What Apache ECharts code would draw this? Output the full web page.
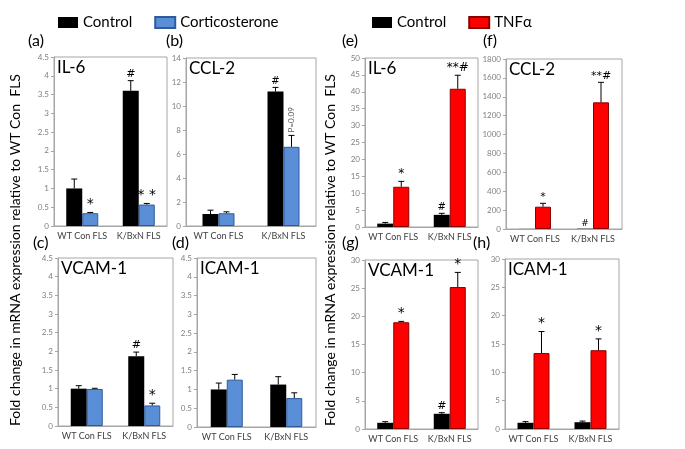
<!DOCTYPE html>
<html>
<head>
<meta charset="utf-8">
<script src="https://cdn.jsdelivr.net/npm/echarts@6/dist/echarts.min.js"></script>
<style>
  html, body { margin: 0; padding: 0; background: #fff; }
  #chart { width: 685px; height: 449px; }
</style>
</head>
<body>
<div id="chart"></div>
<script>
// fold change in mRNA expression, 8 panels (a)-(h)
const categories = ['WT Con FLS', 'K/BxN FLS'];
const genes = ['IL-6', 'CCL-2', 'VCAM-1', 'ICAM-1', 'IL-6', 'CCL-2', 'VCAM-1', 'ICAM-1'];
const panelLetters = ['(a)', '(b)', '(c)', '(d)', '(e)', '(f)', '(g)', '(h)'];

// y axis range per panel
const yMax = [4.5, 14, 4.5, 4.5, 50, 1800, 30, 30];
const yStep = [0.5, 2, 0.5, 0.5, 5, 200, 5, 5];

// (a) IL-6, control vs corticosterone
const aCtrl = [1.0, 3.6];
const aCtrlErr = [0.25, 0.27];
const aCort = [0.34, 0.57];
const aCortErr = [0.02, 0.03];
const aCtrlMarks = ['', '#'];
const aCortMarks = ['*', '* *'];

// (b) CCL-2
const bCtrl = [1.0, 11.2];
const bCtrlErr = [0.32, 0.35];
const bCort = [1.06, 6.6];
const bCortErr = [0.12, 0.95];
const bCtrlMarks = ['', '#'];
const bCortMarks = ['', 'P=0.09'];

// (c) VCAM-1
const cCtrl = [1.0, 1.87];
const cCtrlErr = [0.08, 0.11];
const cCort = [0.99, 0.55];
const cCortErr = [0.02, 0.06];
const cCtrlMarks = ['', '#'];
const cCortMarks = ['', '*'];

// (d) ICAM-1
const dCtrl = [1.0, 1.13];
const dCtrlErr = [0.17, 0.21];
const dCort = [1.26, 0.77];
const dCortErr = [0.14, 0.14];
const dCtrlMarks = ['', ''];
const dCortMarks = ['', ''];

// (e) IL-6, control vs TNFα
const eCtrl = [1.0, 3.6];
const eCtrlErr = [0.35, 0.45];
const eTnf = [11.9, 40.9];
const eTnfErr = [1.6, 4.0];
const eCtrlMarks = ['', '#'];
const eTnfMarks = ['*', '**#'];

// (f) CCL-2
const fCtrl = [1, 3];
const fCtrlErr = [0, 0];
const fTnf = [236, 1341];
const fTnfErr = [36, 212];
const fCtrlMarks = ['', '#'];
const fTnfMarks = ['*', '**#'];

// (g) VCAM-1
const gCtrl = [1.1, 2.7];
const gCtrlErr = [0.2, 0.2];
const gTnf = [18.95, 25.2];
const gTnfErr = [0.15, 2.6];
const gCtrlMarks = ['', '#'];
const gTnfMarks = ['*', '*'];

// (h) ICAM-1
const hCtrl = [1.1, 1.2];
const hCtrlErr = [0.2, 0.2];
const hTnf = [13.4, 13.9];
const hTnfErr = [3.8, 2.0];
const hCtrlMarks = ['', ''];
const hTnfMarks = ['*', '*'];

const FONT = 'Lato, "Open Sans", "Liberation Sans", sans-serif';
const MARK_FONT = '"DejaVu Sans", sans-serif';
const BLUE = { color: '#5a8fd8', borderColor: '#2d5b9c', borderWidth: 1 };
const RED = { color: '#ff0000', borderColor: '#8a0000', borderWidth: 1 };
const BLACK = { color: '#000000' };
const BAR_W = 16;

const grids = [
  { left: 54, top: 57, width: 113, height: 169 },   // a
  { left: 186, top: 58, width: 130, height: 168 },  // b
  { left: 58, top: 258, width: 115, height: 168 },  // c
  { left: 197, top: 258, width: 119, height: 169 }, // d
  { left: 365, top: 58, width: 113, height: 169 },  // e
  { left: 506, top: 59, width: 116, height: 170 },  // f
  { left: 365, top: 260, width: 113, height: 169 }, // g
  { left: 505, top: 259, width: 114, height: 170 }, // h
];
const markFont = [14, 13, 14, 14, 12, 11, 14, 14];
const letterPos = [[28, 33], [166, 33], [33, 235], [172, 235], [342, 33], [483, 33], [342, 235], [473, 235]];

const panels = [
  { ctrl: aCtrl, ctrlErr: aCtrlErr, ctrlMarks: aCtrlMarks, trt: aCort, trtErr: aCortErr, trtMarks: aCortMarks, trtName: 'Corticosterone', trtStyle: BLUE },
  { ctrl: bCtrl, ctrlErr: bCtrlErr, ctrlMarks: bCtrlMarks, trt: bCort, trtErr: bCortErr, trtMarks: bCortMarks, trtName: 'Corticosterone', trtStyle: BLUE },
  { ctrl: cCtrl, ctrlErr: cCtrlErr, ctrlMarks: cCtrlMarks, trt: cCort, trtErr: cCortErr, trtMarks: cCortMarks, trtName: 'Corticosterone', trtStyle: BLUE },
  { ctrl: dCtrl, ctrlErr: dCtrlErr, ctrlMarks: dCtrlMarks, trt: dCort, trtErr: dCortErr, trtMarks: dCortMarks, trtName: 'Corticosterone', trtStyle: BLUE },
  { ctrl: eCtrl, ctrlErr: eCtrlErr, ctrlMarks: eCtrlMarks, trt: eTnf, trtErr: eTnfErr, trtMarks: eTnfMarks, trtName: 'TNFα', trtStyle: RED },
  { ctrl: fCtrl, ctrlErr: fCtrlErr, ctrlMarks: fCtrlMarks, trt: fTnf, trtErr: fTnfErr, trtMarks: fTnfMarks, trtName: 'TNFα', trtStyle: RED },
  { ctrl: gCtrl, ctrlErr: gCtrlErr, ctrlMarks: gCtrlMarks, trt: gTnf, trtErr: gTnfErr, trtMarks: gTnfMarks, trtName: 'TNFα', trtStyle: RED },
  { ctrl: hCtrl, ctrlErr: hCtrlErr, ctrlMarks: hCtrlMarks, trt: hTnf, trtErr: hTnfErr, trtMarks: hTnfMarks, trtName: 'TNFα', trtStyle: RED },
];

/** error bar (upward only) + significance mark, drawn on top of a bar */
function errorSeries(idx, vals, errs, marks, side) {
  const fs = markFont[idx];
  return {
    type: 'custom',
    xAxisIndex: idx,
    yAxisIndex: idx,
    z: 5,
    clip: false,
    silent: true,
    data: vals.map((v, i) => [i, v, errs[i]]),
    renderItem: (params, api) => {
      const i = api.value(0);
      const v = api.value(1);
      const e = api.value(2);
      const b = api.coord([i, v]);
      const t = api.coord([i, v + e]);
      const x = b[0] + side * BAR_W / 2;
      const children = [];
      if (e > 0) {
        children.push({ type: 'line', shape: { x1: x, y1: b[1], x2: x, y2: t[1] }, style: { stroke: '#000', lineWidth: 1 } });
        children.push({ type: 'line', shape: { x1: x - 3, y1: t[1], x2: x + 3, y2: t[1] }, style: { stroke: '#000', lineWidth: 1 } });
      }
      const m = marks[params.dataIndex];
      if (m && m.startsWith('P=')) {
        children.push({
          type: 'text', x: x, y: t[1] - 3, rotation: Math.PI / 2,
          style: { text: m, fontSize: 8, fontFamily: FONT, fill: '#555', align: 'left', verticalAlign: 'middle' },
        });
      } else if (m) {
        const onlyHash = m === '#';
        const size = onlyHash ? Math.round(fs * 0.8) : fs;
        children.push({
          type: 'text', x: x, y: t[1] - 1,
          style: {
            text: m, fontSize: size, fontFamily: MARK_FONT,
            fill: '#000', align: 'center', verticalAlign: 'bottom',
          },
        });
      }
      return { type: 'group', children };
    },
  };
}

const grid = grids.map((g) => ({
  ...g, show: true, backgroundColor: '#fff', borderColor: '#a6a6a6', borderWidth: 1, containLabel: false,
}));

const xAxis = grids.map((g, i) => ({
  type: 'category',
  gridIndex: i,
  data: categories,
  axisLine: { lineStyle: { color: '#a6a6a6' } },
  axisTick: { show: false },
  axisLabel: { interval: 0, fontSize: 9, color: '#404040', fontFamily: FONT, margin: 6 },
}));

const yAxis = grids.map((g, i) => ({
  type: 'value',
  gridIndex: i,
  min: 0,
  max: yMax[i],
  interval: yStep[i],
  axisLine: { show: true, lineStyle: { color: '#a6a6a6' } },
  axisTick: { show: true, length: 3, lineStyle: { color: '#a6a6a6' } },
  splitLine: { show: false },
  axisLabel: { fontSize: 8, color: '#808080', fontFamily: FONT, margin: 5, formatter: (v) => String(v) },
}));

const series = [];
panels.forEach((p, i) => {
  series.push({
    name: 'Control', type: 'bar', xAxisIndex: i, yAxisIndex: i,
    data: p.ctrl, barWidth: BAR_W, barGap: '0%', itemStyle: BLACK,
  });
  series.push({
    name: p.trtName, type: 'bar', xAxisIndex: i, yAxisIndex: i,
    data: p.trt, barWidth: BAR_W, barGap: '0%', itemStyle: p.trtStyle,
  });
  series.push(errorSeries(i, p.ctrl, p.ctrlErr, p.ctrlMarks, -1));
  series.push(errorSeries(i, p.trt, p.trtErr, p.trtMarks, 1));
});

const graphic = [];
grids.forEach((g, i) => {
  graphic.push({
    type: 'text', left: g.left + 3, top: g.top + 2,
    style: { text: genes[i], fontSize: 17, fontFamily: FONT, fill: '#000' },
  });
  graphic.push({
    type: 'text', left: letterPos[i][0], top: letterPos[i][1],
    style: { text: panelLetters[i], fontSize: 16, fontFamily: FONT, fill: '#000' },
  });
});
const yTitle = 'Fold change in mRNA expression relative to WT Con  FLS';
[15, 330].forEach((x) => {
  graphic.push({
    type: 'text', x: x, y: 250, rotation: Math.PI / 2,
    style: { text: yTitle, fontSize: 14, fontFamily: FONT, fill: '#000', align: 'center', verticalAlign: 'middle' },
  });
});

const legendBase = {
  top: 10, itemWidth: 20, itemHeight: 11, itemGap: 22, icon: 'rect', selectedMode: false,
  textStyle: { fontSize: 15, fontFamily: FONT, color: '#000' },
};

const chart = echarts.init(document.getElementById('chart'));
chart.setOption({
  animation: false,
  backgroundColor: '#fff',
  legend: [
    { ...legendBase, left: 53, data: ['Control', 'Corticosterone'] },
    { ...legendBase, left: 367, data: ['Control', 'TNFα'] },
  ],
  grid, xAxis, yAxis, series, graphic,
});
</script>
</body>
</html>
